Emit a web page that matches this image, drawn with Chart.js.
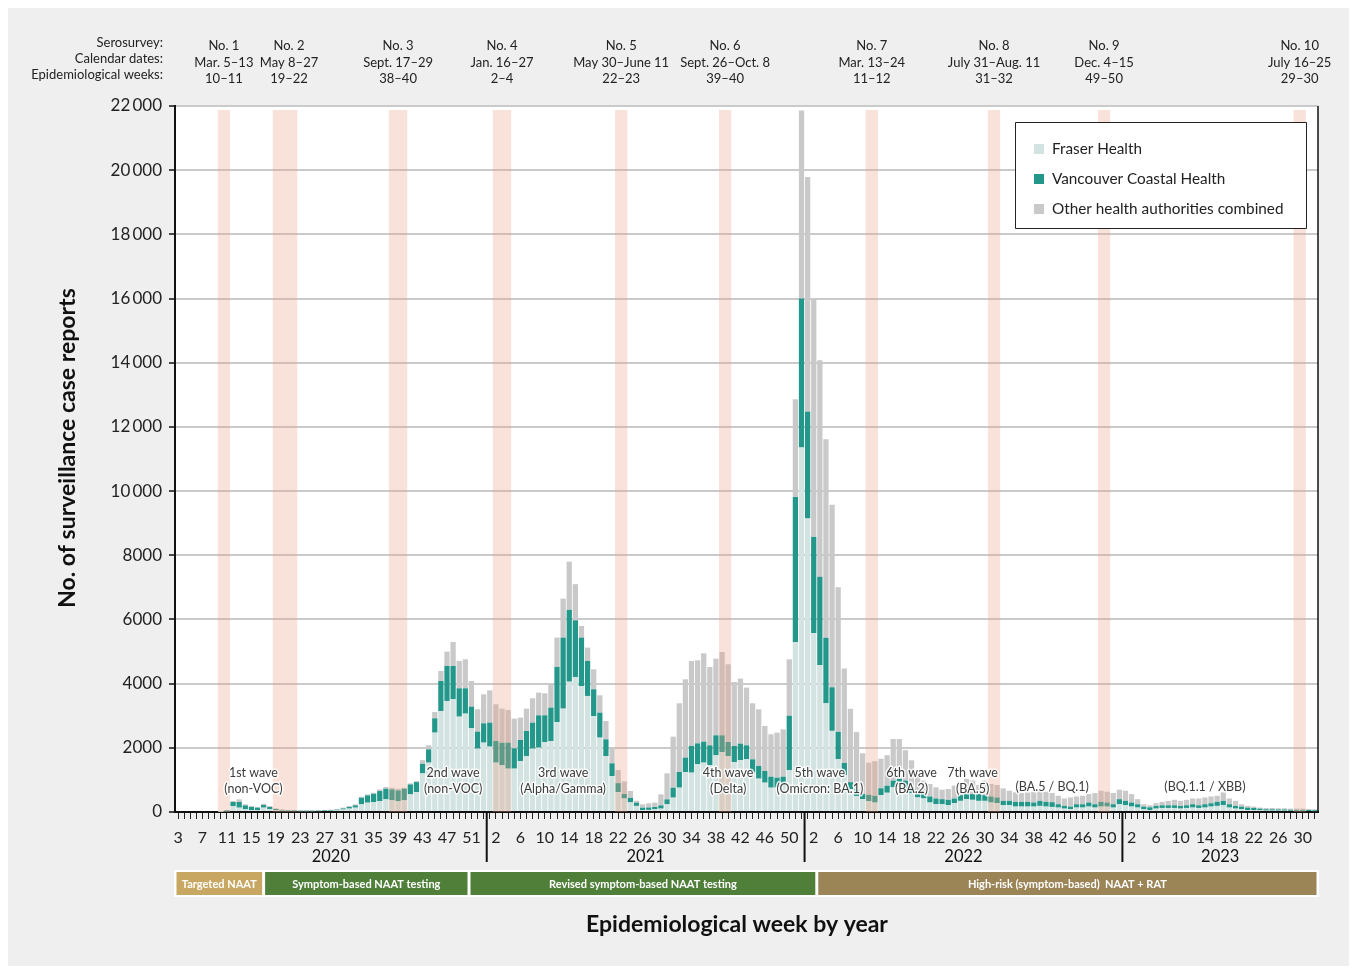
<!DOCTYPE html>
<html><head><meta charset="utf-8">
<script src="https://cdn.jsdelivr.net/npm/chart.js@4.4.1/dist/chart.umd.min.js"></script>
<style>html,body{margin:0;padding:0;background:#fff;}canvas{display:block;}</style>
</head><body>
<canvas id="c" width="1355" height="968" style="width:1355px;height:968px"></canvas>
<script>
// ---------- DATA ----------
const years = [2020, 2021, 2022, 2023];
const firstWeek = [3, 1, 1, 1];
const lastWeek = [53, 52, 52, 32];

const fraser2020 = [0,0,0,0,0,0,0, 5,25,186,135,83,62,52,135,83,52,40,30,30,25,25,25,28,32,38,50,75,105,135,238,290,311,342,394,363,342,363,549,622,1202,1538,2473,3148,3460,3512,2971,3065,2608,1974,2161];
const vch2020    = [0,0,0,0,0,0,0, 5,25,125,176,124,93,83,83,72,41,25,18,18,15,15,15,15,18,20,25,35,50,72,207,228,259,311,331,342,331,362,311,310,300,415,447,935,1091,1039,884,790,675,530,603];
const other2020  = [0,0,0,0,0,0,0, 5,10,31,83,31,31,25,41,31,21,18,14,14,12,12,12,12,14,16,18,25,31,31,32,30,30,51,52,51,52,31,31,31,114,125,197,312,447,748,852,904,800,696,904];

const fraser2021 = [2036,1538,1455,1351,1351,1590,1746,1974,2005,2182, 2213,2805,3221,4062,4208,3927,3616,2992,2317,1745, 1122,620,420,300,190,62,65,83,104,239, 447,758,1247,1226,1486,1538,1455,1766,1870,1746, 1559,1621,1642,1226,1039,914,758,758,810,1300, 5287,11360];
const vch2021    = [749,675,706,810,633,654,779,811,1008,831, 1039,1715,2213,2238,1766,1507,1091,832,779,520, 395,280,140,140,100,73,75,73,104,156, 311,489,447,831,654,654,623,624,520,436, 498,509,436,416,395,364,343,312,291,1700, 4530,4640];
const other2021  = [1007,1143,1060,1018,925,696,696,758,707,686, 727,914,1216,1500,1126,364,415,623,541,572, 457,410,390,215,60,104,130,135,342,810, 1590,2140,2441,2650,2587,2754,2442,2389,2597,2421, 1995,2026,1797,1745,1766,1403,1320,1403,1476,1758, 3043,5860];

const fraser2022 = [9146,5573,4573,3387,2529,1643,1143,714,500,400, 336,294,530,600,768,821,737,590,453,421, 295,242,242,211,274,347,400,379,347,347, 295,274,211,211,168,168,168,168,190,168, 158,137,105,84,137,137,168,137,168,168, 137,242];
const vch2022    = [3329,3001,2758,2043,1358,857,386,215,200,160, 200,210,210,220,211,211,242,178,210,190, 189,179,158,168,147,179,190,179,211,179, 189,179,136,136,148,148,148,127,157,148, 148,105,85,84,105,105,127,105,148,127, 105,158];
const other2022  = [7315,7426,6744,6188,5687,4502,2944,2286,1790,1270, 1000,1080,920,950,1296,1243,948,843,527,368, 390,348,295,337,400,380,442,421,284,453, 390,389,390,316,295,274,295,337,316,316, 284,263,231,285,242,263,263,348,347,337, 348,295];

const fraser2023 = [211,168,137,84,63,105,126,126,126,105, 126,137,126,137,168,190,211,137,105,84, 63,63,52,42,42,40,40,35,35,35, 32,28];
const vch2023    = [136,127,105,84,84,84,84,84,84,84, 84,105,84,105,105,126,136,105,84,84, 74,63,53,42,42,40,40,35,35,35, 32,28];
const other2023  = [316,263,158,74,64,85,106,137,169,158, 169,179,211,211,211,189,264,179,158,74, 53,42,32,42,42,36,36,35,35,35, 31,28];

const seriesNames = ['Fraser Health', 'Vancouver Coastal Health', 'Other health authorities combined'];

const seroLabels = ['No. 1','No. 2','No. 3','No. 4','No. 5','No. 6','No. 7','No. 8','No. 9','No. 10'];
const seroDates  = ['Mar. 5–13','May 8–27','Sept. 17–29','Jan. 16–27','May 30–June 11','Sept. 26–Oct. 8','Mar. 13–24','July 31–Aug. 11','Dec. 4–15','July 16–25'];
const seroWeeks  = ['10–11','19–22','38–40','2–4','22–23','39–40','11–12','31–32','49–50','29–30'];
const seroYear   = [2020,2020,2020,2021,2021,2021,2022,2022,2022,2023];
const seroStart  = [10,19,38,2,22,39,11,31,49,29];
const seroEnd    = [11,22,40,4,23,40,12,32,50,30];

const waveLine1 = ['1st wave','2nd wave','3rd wave','4th wave','5th wave','6th wave','7th wave','','' ];
const waveLine2 = ['(non-VOC)','(non-VOC)','(Alpha/Gamma)','(Delta)','(Omicron: BA.1)','(BA.2)','(BA.5)','(BA.5 / BQ.1)','(BQ.1.1 / XBB)'];

const testingLabels = ['Targeted NAAT','Symptom-based NAAT testing','Revised symptom-based NAAT testing','High-risk (symptom-based)  NAAT + RAT'];

// ---------- BUILD ----------
const catYear = [], catWeek = [];
years.forEach((y, k) => { for (let w = firstWeek[k]; w <= lastWeek[k]; w++) { catYear.push(y); catWeek.push(w); } });
const labels = catWeek.map(String);
const fraser = [].concat(fraser2020, fraser2021, fraser2022, fraser2023);
const vch = [].concat(vch2020, vch2021, vch2022, vch2023);
const other = [].concat(other2020, other2021, other2022, other2023);
function catIndex(y, w) { for (let i = 0; i < catYear.length; i++) if (catYear[i] === y && catWeek[i] === w) return i; return -1; }

// layout/style config (not data)
const FONT = 'Lato, "Open Sans", sans-serif';
const colors = ['#d3e3e1', '#24978b', '#c9c9c9'];
const waveAnchor = [[2020,15,1],[2020,48,1],[2021,13,1],[2021,40,1],[2022,3,1],[2022,18,1],[2022,28,1],[2022,41,0],[2023,14,0]];
const testingBounds = [null, 14.0, 47.6, 104.5, null];
const testingColors = ['#c8a762', '#4f7f39', '#4f7f39', '#9b8456'];

const overlay = {
  id: 'overlay',
  beforeDraw(chart) {
    const { ctx, chartArea: a } = chart;
    ctx.save();
    ctx.fillStyle = '#fff'; ctx.fillRect(0, 0, chart.width, chart.height);
    ctx.fillStyle = '#efefef'; ctx.fillRect(8, 8, chart.width - 14, chart.height - 10);
    ctx.fillStyle = '#fff'; ctx.fillRect(a.left, a.top, a.right - a.left, a.bottom - a.top);
    ctx.restore();
  },
  afterDatasetsDraw(chart) {
    const { ctx, chartArea: a, scales: { x, y } } = chart;
    const step = x.getPixelForValue(1) - x.getPixelForValue(0);
    ctx.save();
    // serosurvey bands
    ctx.fillStyle = 'rgba(232,160,130,0.30)';
    for (let k = 0; k < seroLabels.length; k++) {
      const i0 = catIndex(seroYear[k], seroStart[k]), i1 = catIndex(seroYear[k], seroEnd[k]);
      const x0 = x.getPixelForValue(i0) - step / 2, x1 = x.getPixelForValue(i1) + step / 2;
      ctx.fillRect(x0, a.top + 4, x1 - x0, a.bottom - a.top - 4);
    }
    // wave labels
    ctx.font = '12.5px ' + FONT; ctx.textAlign = 'center'; ctx.textBaseline = 'middle';
    ctx.lineJoin = 'round';
    for (let k = 0; k < waveLine2.length; k++) {
      const [yy, ww, two] = waveAnchor[k];
      const px = x.getPixelForValue(catIndex(yy, ww)) + (k === 0 ? 2 : 0);
      const lines = two ? [[waveLine1[k], 1230], [waveLine2[k], 730]] : [[waveLine2[k], 780]];
      for (const [t, v] of lines) {
        const py = y.getPixelForValue(v);
        ctx.strokeStyle = 'rgba(255,255,255,0.85)'; ctx.lineWidth = 3; ctx.strokeText(t, px, py);
        ctx.fillStyle = '#3c3c3c'; ctx.fillText(t, px, py);
      }
    }
    // right border
    ctx.strokeStyle = '#111'; ctx.lineWidth = 1.5;
    ctx.beginPath(); ctx.moveTo(a.right, a.top); ctx.lineTo(a.right, a.bottom); ctx.stroke();
    // legend
    ctx.fillStyle = '#fff'; ctx.fillRect(1015, 122, 291, 106);
    ctx.strokeStyle = '#222'; ctx.lineWidth = 1; ctx.strokeRect(1015.5, 122.5, 291, 106);
    ctx.font = '15.3px ' + FONT; ctx.textAlign = 'left'; ctx.textBaseline = 'middle';
    for (let k = 0; k < 3; k++) {
      const cy = 149 + k * 30;
      ctx.fillStyle = colors[k]; ctx.fillRect(1034, cy - 5, 10, 10);
      ctx.fillStyle = '#222'; ctx.fillText(seriesNames[k], 1052, cy);
    }
    ctx.restore();
  },
  afterDraw(chart) {
    const { ctx, chartArea: a, scales: { x } } = chart;
    const step = x.getPixelForValue(1) - x.getPixelForValue(0);
    const xAt = f => x.getPixelForValue(0) + f * step;
    ctx.save();
    // header
    ctx.fillStyle = '#222'; ctx.font = '13px ' + FONT; ctx.textBaseline = 'middle';
    ctx.textAlign = 'right';
    ctx.fillText('Serosurvey:', 163, 43);
    ctx.fillText('Calendar dates:', 163, 59);
    ctx.fillText('Epidemiological weeks:', 163, 75);
    ctx.textAlign = 'center';
    for (let k = 0; k < seroLabels.length; k++) {
      const i0 = catIndex(seroYear[k], seroStart[k]), i1 = catIndex(seroYear[k], seroEnd[k]);
      const cx = (x.getPixelForValue(i0) + x.getPixelForValue(i1)) / 2 + (k === 1 ? 4 : 0);
      ctx.fillText(seroLabels[k], cx, 46);
      ctx.fillText(seroDates[k], cx, 63);
      ctx.fillText(seroWeeks[k], cx, 79);
    }
    // year separators and labels
    const bounds = [a.left];
    for (let i = 1; i < catYear.length; i++) if (catYear[i] !== catYear[i - 1]) bounds.push(xAt(i - 0.5));
    bounds.push(a.right);
    ctx.strokeStyle = '#111'; ctx.lineWidth = 2;
    for (let k = 1; k < bounds.length - 1; k++) {
      ctx.beginPath(); ctx.moveTo(bounds[k], a.bottom); ctx.lineTo(bounds[k], a.bottom + 50); ctx.stroke();
    }
    ctx.font = '16.5px ' + FONT; ctx.fillStyle = '#111';
    for (let k = 0; k < years.length; k++) ctx.fillText(String(years[k]), (bounds[k] + bounds[k + 1]) / 2, 857);
    // testing strips
    ctx.fillStyle = '#fff'; ctx.fillRect(a.left - 1, 870, a.right - a.left + 2, 27);
    const tb = testingBounds.map((b, k) => b === null ? (k === 0 ? a.left + 1.5 : a.right - 1.5) : xAt(b));
    ctx.font = 'bold 11px ' + FONT;
    for (let k = 0; k < testingLabels.length; k++) {
      const x0 = tb[k] + (k === 0 ? 0 : 1.5), x1 = tb[k + 1] - (k === testingLabels.length - 1 ? 0 : 1.5);
      ctx.fillStyle = testingColors[k]; ctx.fillRect(x0, 872, x1 - x0, 23);
      ctx.fillStyle = '#fff'; ctx.fillText(testingLabels[k], (x0 + x1) / 2, 884);
    }
    // titles
    ctx.fillStyle = '#111';
    ctx.font = 'bold 23px ' + FONT;
    ctx.fillText('Epidemiological week by year', 737, 925);
    ctx.translate(68, 448); ctx.rotate(-Math.PI / 2);
    ctx.font = 'bold 23px ' + FONT;
    ctx.fillText('No. of surveillance case reports', 0, 0);
    ctx.restore();
  }
};

const fmt = v => v >= 10000 ? String(v).replace(/(\d+)(\d{3})$/, '$1\u2009$2') : String(v);

new Chart(document.getElementById('c'), {
  type: 'bar',
  data: {
    labels,
    datasets: [
      { label: seriesNames[0], data: fraser, backgroundColor: colors[0] },
      { label: seriesNames[1], data: vch, backgroundColor: colors[1] },
      { label: seriesNames[2], data: other, backgroundColor: colors[2] }
    ]
  },
  options: {
    responsive: false, animation: false, devicePixelRatio: 1,
    layout: { padding: { top: 106, right: 37, bottom: 0, left: 0 } },
    datasets: { bar: { barPercentage: 0.86, categoryPercentage: 1.0 } },
    plugins: { legend: { display: false }, tooltip: { enabled: false } },
    scales: {
      x: {
        stacked: true,
        afterFit: s => { s.height = 156; },
        grid: { display: true, drawOnChartArea: false, offset: false, tickLength: 7, tickColor: '#222', tickWidth: 1 },
        border: { display: true, color: '#111', width: 2 },
        ticks: {
          autoSkip: false, maxRotation: 0, minRotation: 0, padding: 9, color: '#222',
          font: { family: FONT, size: 16 },
          callback: (v, i) => (i % 4 === 0 ? labels[i] : '')
        }
      },
      y: {
        stacked: true, min: 0, max: 22000,
        afterFit: s => { s.width = 175; },
        grid: { color: '#cacaca', lineWidth: 2, tickColor: '#111', tickLength: 6, tickWidth: 1.5 },
        border: { display: true, color: '#111', width: 2 },
        ticks: { stepSize: 2000, padding: 7, color: '#222', font: { family: FONT, size: 17 }, callback: v => fmt(v) }
      }
    }
  },
  plugins: [overlay]
});
</script>
</body></html>
